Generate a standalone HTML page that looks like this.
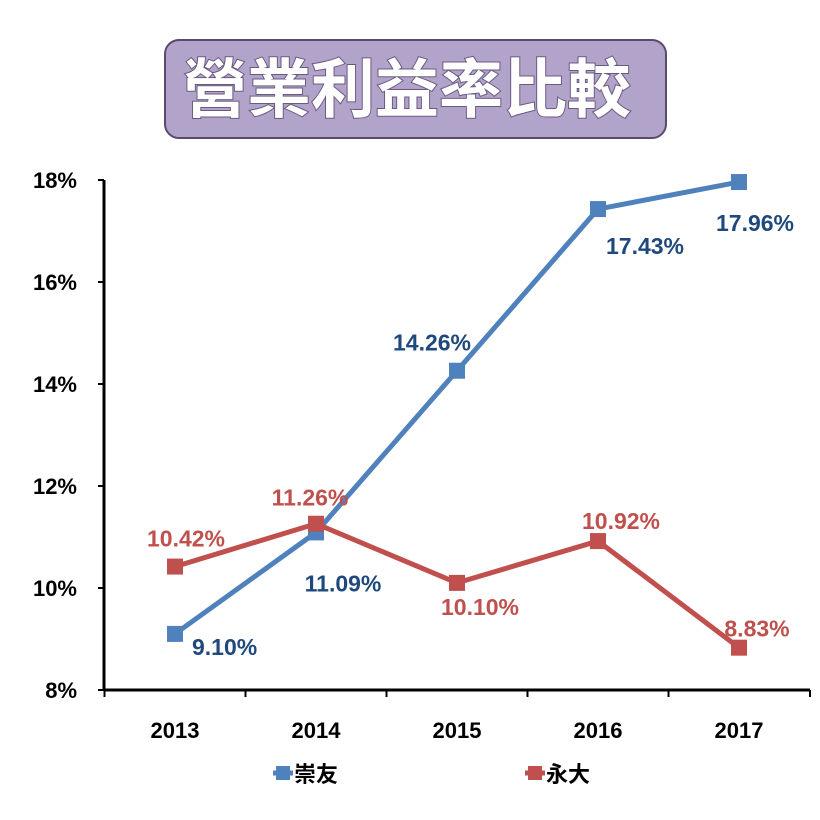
<!DOCTYPE html>
<html><head><meta charset="utf-8"><style>
body{margin:0;background:#fff;width:820px;height:820px;overflow:hidden;}
svg{display:block;font-family:"Liberation Sans","Noto Sans CJK TC",sans-serif;}
</style></head><body>
<svg id="chart" width="820" height="820">
<g>
<rect x="165" y="40" width="501" height="98" rx="14" fill="#b2a3cb" stroke="#5a4a6e" stroke-width="2"/>
<text x="407" y="112" text-anchor="middle" font-size="64" font-weight="bold" fill="#fff" stroke="#6a5a80" stroke-width="2" paint-order="stroke" font-family="'Noto Sans CJK TC',sans-serif">營業利益率比較</text>
</g>
<g id="axes"></g>
<g id="series"></g>
<g id="legend"></g>
</svg>
<script>
const categories=["2013","2014","2015","2016","2017"];
const seriesA=[9.10,11.09,14.26,17.43,17.96];
const seriesB=[10.42,11.26,10.10,10.92,8.83];
const seriesNames=["崇友","永大"];
const yTicks=[8,10,12,14,16,18];
const NS="http://www.w3.org/2000/svg";
function mk(t,a,p){const e=document.createElementNS(NS,t);for(const k in a)e.setAttribute(k,a[k]);p.appendChild(e);return e;}
const x0=104,x1=810,yTop=180,yBot=690;
function xs(i){return 175+i*141;}
function ys(v){return yBot-(v-8)/10*(yBot-yTop);}
const ax=document.getElementById('axes');
const yl=mk('line',{x1:x0,y1:yTop,x2:x0,y2:yBot,stroke:'#000','stroke-width':3},ax);


const xl=mk('line',{x1:x0,y1:yBot,x2:x1,y2:yBot,stroke:'#000','stroke-width':3},ax);


yTicks.forEach(v=>{const y=ys(v);
 mk('line',{x1:x0-6,y1:y,x2:x0,y2:y,stroke:'#000','stroke-width':2},ax);
 const t=mk('text',{x:77,y:y+8,'text-anchor':'end','font-size':22,'font-weight':'bold',fill:'#000'},ax);t.textContent=v+'%';
 
 });
categories.forEach((c,i)=>{const x=xs(i);
 mk('line',{x1:x-70.5,y1:yBot,x2:x-70.5,y2:yBot+7,stroke:'#000','stroke-width':2},ax);
 const t=mk('text',{x:x,y:738,'text-anchor':'middle','font-size':22,'font-weight':'bold',fill:'#000'},ax);t.textContent=c;
 
 });
mk('line',{x1:x1,y1:yBot,x2:x1,y2:yBot+7,stroke:'#000','stroke-width':2},ax);
const sg=document.getElementById('series');
const offA=[[17,20,'start'],[27,58,'middle'],[-25,-21,'middle'],[47,44,'middle'],[16,48,'middle']];
const offB=[[11,-21,'middle'],[-6,-19,'middle'],[23,31,'middle'],[23,-13,'middle'],[18,-12,'middle']];
function draw(data,color,lc,off,name){
 const pts=data.map((v,i)=>xs(i)+','+ys(v)).join(' ');
 const pl=mk('polyline',{points:pts,fill:'none',stroke:color,'stroke-width':5,'stroke-linejoin':'round'},sg);
 
 
 data.forEach((v,i)=>{const r=mk('rect',{x:xs(i)-8,y:ys(v)-8,width:16,height:16,fill:color},sg);
  
  
  const t=mk('text',{x:xs(i)+off[i][0],y:ys(v)+off[i][1]+1,'text-anchor':off[i][2],'font-size':23,'font-weight':'bold',fill:lc},sg);
  t.textContent=v.toFixed(2)+'%';
  
  });
}
draw(seriesA,'#4f81bd','#1f497d',offA,'chongyou');
draw(seriesB,'#c0504d','#c0504d',offB,'yongda');
const lg=document.getElementById('legend');
[[273,'#4f81bd'],[525,'#c0504d']].forEach((p,i)=>{
 const g=mk('g',{},lg);
 
 
 mk('line',{x1:p[0],y1:773,x2:p[0]+20,y2:773,stroke:p[1],'stroke-width':5},g);
 mk('rect',{x:p[0]+3,y:766,width:14,height:14,fill:p[1]},g);
 const t=mk('text',{x:p[0]+21,y:782,'font-size':22,'font-weight':'bold',fill:'#000'},g);t.textContent=seriesNames[i];
});
</script>
</body></html>
